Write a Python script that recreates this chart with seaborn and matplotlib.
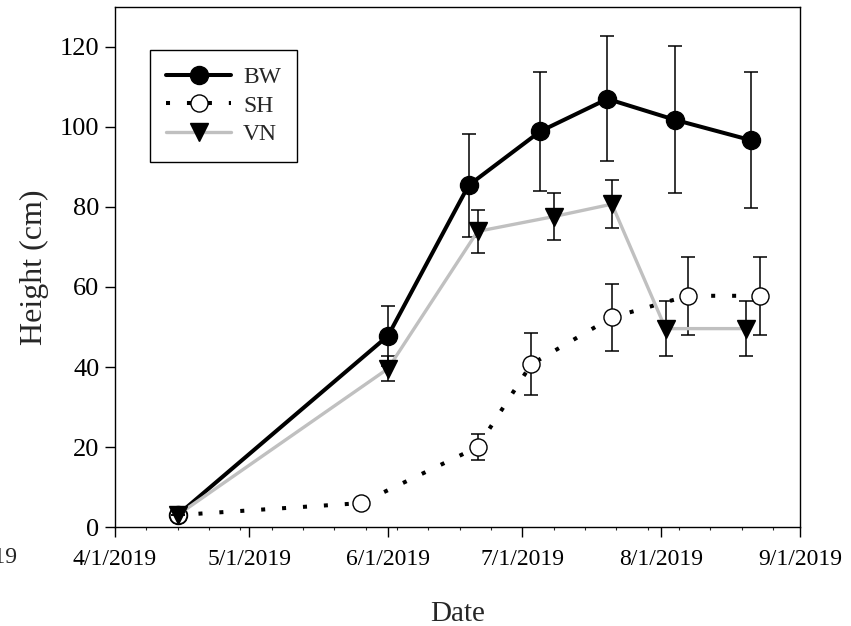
import matplotlib
matplotlib.use("Agg")
import matplotlib.pyplot as plt
import matplotlib.dates as mdates
from matplotlib.ticker import FuncFormatter
import seaborn as sns
import pandas as pd

# ---- data ----
bw_dates = ["2019-04-15", "2019-06-01", "2019-06-19", "2019-07-05", "2019-07-20", "2019-08-04", "2019-08-21"]
bw_height = [3.0, 47.8, 85.4, 98.9, 107.0, 101.8, 96.7]
bw_err = [0.0, 7.5, 12.9, 14.9, 15.6, 18.4, 17.0]

sh_dates = ["2019-04-15", "2019-05-26", "2019-06-21", "2019-07-03", "2019-07-21", "2019-08-07", "2019-08-23"]
sh_height = [3.0, 6.0, 20.0, 40.7, 52.4, 57.8, 57.8]
sh_err = [0.0, 0.8, 3.2, 7.7, 8.3, 9.8, 9.8]

vn_dates = ["2019-04-15", "2019-06-01", "2019-06-21", "2019-07-08", "2019-07-21", "2019-08-02", "2019-08-20"]
vn_height = [3.0, 39.6, 73.9, 77.6, 80.7, 49.6, 49.6]
vn_err = [0.0, 3.1, 5.4, 5.8, 6.0, 6.8, 6.8]

series_names = ["BW", "SH", "VN"]
x_ticks = ["2019-03-01", "2019-04-01", "2019-05-01", "2019-06-01", "2019-07-01", "2019-08-01", "2019-09-01"]
y_ticks = [0, 20, 40, 60, 80, 100, 120]

sns.set_style("ticks")
plt.rcParams["font.family"] = ["Liberation Serif", "DejaVu Serif"]

df = pd.concat([
    pd.DataFrame({"Date": pd.to_datetime(bw_dates), "Height": bw_height, "err": bw_err, "series": "BW"}),
    pd.DataFrame({"Date": pd.to_datetime(sh_dates), "Height": sh_height, "err": sh_err, "series": "SH"}),
    pd.DataFrame({"Date": pd.to_datetime(vn_dates), "Height": vn_height, "err": vn_err, "series": "VN"}),
], ignore_index=True)

fig = plt.figure(figsize=(8.51, 6.26), dpi=100)
ax = fig.add_axes([0.135, 0.158, 0.940 - 0.135, 0.989 - 0.158])

styles = {
    "BW": dict(color="black", linewidth=2.9, linestyle="-", marker="o", markersize=13,
               markerfacecolor="black", markeredgecolor="black", markeredgewidth=1.0),
    "SH": dict(color="black", linewidth=2.9, linestyle=(0, (1, 4.2)), marker="o", markersize=12.3,
               markerfacecolor="white", markeredgecolor="black", markeredgewidth=1.0),
    "VN": dict(color="#c0c0c0", linewidth=2.4, linestyle="-", marker="v", markersize=13.5,
               markerfacecolor="black", markeredgecolor="black", markeredgewidth=1.0),
}

handles = []
for i, name in enumerate(series_names):
    sub = df[df["series"] == name]
    ax.errorbar(sub["Date"], sub["Height"], yerr=sub["err"], fmt="none", ecolor="black",
                elinewidth=1.1, capsize=5.3, capthick=1.1, zorder=2 + i)
    sns.lineplot(data=sub, x="Date", y="Height", ax=ax, zorder=2.5 + i, **styles[name])
    handles.append(ax.lines[-1])

for ln in ax.lines:
    ln.set_dash_capstyle("butt")

ax.set_xlim(pd.Timestamp("2019-04-01"), pd.Timestamp("2019-09-01"))
ax.set_ylim(0, 130)

ax.xaxis.set_major_locator(mdates.MonthLocator())
ax.xaxis.set_minor_locator(mdates.WeekdayLocator(byweekday=mdates.MO))
ax.xaxis.set_major_formatter(FuncFormatter(
    lambda v, p: (lambda d: f"{d.month}/{d.day}/{d.year}")(mdates.num2date(v))))
ax.set_yticks(y_ticks)

ax.tick_params(axis="x", which="major", direction="out", length=7, width=1, labelsize=17, pad=9,
               top=False, colors="black")
ax.tick_params(axis="x", which="minor", direction="out", length=2.5, width=0.8, top=False)
ax.tick_params(axis="y", which="major", direction="out", length=7, width=1, labelsize=19, pad=4,
               right=False, colors="black")

# leftmost tick label that sits outside the axes in the reference
first = pd.Timestamp(x_ticks[0])
ax.annotate(f"{first.month}/{first.day}/{first.year}",
            xy=(mdates.date2num(first), 0), xycoords=("data", "axes fraction"),
            xytext=(0, -14), textcoords="offset points", ha="center", va="top",
            fontsize=17, annotation_clip=False)

for s in ax.spines.values():
    s.set_visible(True)
    s.set_color("black")
    s.set_linewidth(1.0)

ax.set_xlabel("Date", fontsize=21, labelpad=22)
ax.set_ylabel("Height (cm)", fontsize=23, labelpad=8)
ax.grid(False)

leg = ax.legend(handles=handles, labels=series_names, loc="upper left",
                bbox_to_anchor=(0.051, 0.917), fontsize=17, frameon=True, fancybox=False,
                edgecolor="black", framealpha=1, handlelength=2.75, handletextpad=0.5,
                labelspacing=0.3, borderpad=0.7, borderaxespad=0)
leg.get_frame().set_linewidth(1.0)

fig.savefig("out.png", dpi=100)
